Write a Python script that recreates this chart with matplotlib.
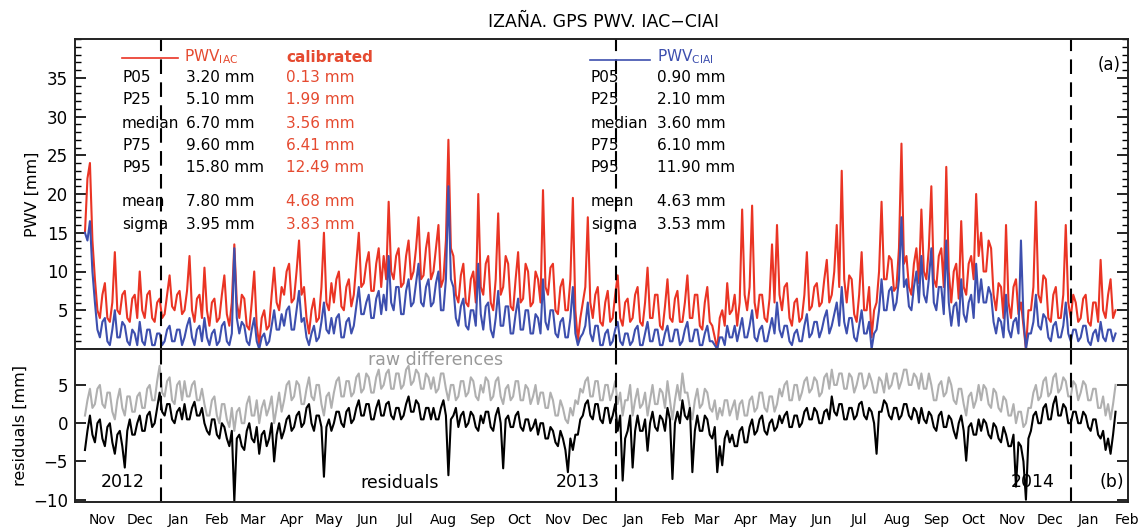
import numpy as np
import matplotlib
matplotlib.use("Agg")
import matplotlib.pyplot as plt
from matplotlib.lines import Line2D
from matplotlib.ticker import MultipleLocator

# ---------------- data (2-day steps from 2011-11-01) ----------------
start_day = -61          # days relative to 2012-01-01
step_days = 2

pwv_iac = [
    15, 22, 24, 14, 9, 5, 4, 7, 8.5, 4, 3.5, 6, 12.5, 5, 4.5, 7, 7.5, 4, 3.5, 6.5,
    7, 4, 10, 5, 4, 7, 7.5, 4, 3.5, 6, 6.5, 4, 4.5, 7, 9.5, 5.5, 5, 7, 7.5, 4.5,
    5, 7.5, 12, 5, 3.5, 6.5, 7, 4, 10.5, 5, 3, 6, 6.5, 3.5, 4, 7, 9.5, 4.5, 3, 6,
    13.5, 6, 4, 7, 6.5, 3, 2.5, 6, 10, 3, 0.5, 4, 5, 2.5, 3, 7, 10.5, 6, 5, 8,
    7, 10, 11, 6, 6.5, 10, 14, 7, 8, 4, 2, 5, 6.5, 3.5, 4, 8, 15, 6, 5, 8.5,
    6, 9, 10, 5.5, 5, 8, 9, 5.5, 7, 11, 15, 8, 8.5, 11, 12.5, 7.5, 7.5, 11, 13, 8,
    12, 9, 19, 10, 9, 12, 13, 8, 8.5, 12, 14, 9, 10, 13, 17, 9, 9.5, 13, 15, 9,
    10, 13, 16, 8, 9, 14, 27, 13, 12, 7, 6, 9.5, 11, 6, 5.5, 9, 10, 6, 20, 8,
    7, 11, 12, 6, 5, 9, 17.5, 7, 8, 12, 11, 5.5, 5, 9, 12.5, 6, 6.5, 11, 10, 5.5,
    6, 10, 9, 6, 20.5, 8, 7, 10.5, 11, 5, 4.5, 8, 9, 5, 5, 9, 19.5, 5, 1, 4,
    6, 8, 17, 6, 4, 7, 8, 3.5, 3, 6, 7.5, 3.5, 4, 7, 9.5, 4, 3, 6, 6.5, 3.5,
    4, 7, 8, 3.5, 3, 6, 10.5, 4, 4, 7, 7, 3, 2.5, 5.5, 9, 4, 3.5, 6.5, 7.5, 3.5,
    3.5, 6, 9.5, 4, 4, 7, 7, 3, 2.5, 6, 8, 3.5, 3, 1.5, 0, 4, 5, 3, 8.5, 4.5,
    5, 7, 3, 6, 18, 7, 5, 8, 18.5, 6, 4, 7, 7, 4, 3.5, 6.5, 13.5, 6, 16, 7,
    5, 8, 8.5, 4, 3, 6, 6.5, 3.5, 4, 7, 12.5, 5, 5.5, 8, 8.5, 5.5, 6, 9, 11.5, 6,
    7, 10, 16, 8, 23, 9, 6, 9.5, 9, 4.5, 3.5, 7, 12.5, 5, 5, 8, 1.5, 5, 6, 10,
    19, 9, 9, 12, 11.5, 7.5, 8, 13, 26.5, 11, 12, 8, 7, 11, 13, 8.5, 18, 10, 9, 13,
    21, 9, 8, 12, 13, 8, 23.5, 10, 6, 10, 11, 6.5, 16.5, 8, 7, 11, 12, 9, 20, 12,
    15, 10, 10, 14, 13, 7, 5, 8.5, 8, 4, 16, 6, 4, 8, 9, 4.5, 6, 3, 0, 5,
    5, 8, 19, 7, 6, 9.5, 9, 4, 3.5, 7, 8, 4, 4, 7, 16, 6, 4, 7, 6, 3.5,
    4, 6.5, 7, 3.5, 3, 6, 6, 3.5, 11.5, 5, 4, 7, 9, 4, 5]

pwv_ciai = [
    15, 14, 16.5, 10, 6, 2.5, 1.5, 3.5, 4, 1, 0.5, 2.5, 5, 1.5, 1.5, 3.5, 3, 1, 0.5, 2.5,
    2, 0.5, 3.5, 1, 0.5, 2.5, 2.5, 0.5, 0.5, 2, 2, 0.5, 1, 2.5, 3, 1, 1, 2.5, 2.5, 0.5,
    1.5, 3, 4, 1.5, 0.5, 2.5, 3, 1, 4, 1.5, 0.5, 2, 2.5, 0.5, 1, 3, 3.5, 1, 0.5, 2,
    13, 4, 2, 3.5, 3, 1, 0.5, 2.5, 4, 1, 0, 1.5, 2, 0.5, 1, 3, 5, 2.5, 2.5, 4.5,
    3, 5, 5.5, 2.5, 2.5, 5, 7.5, 3.5, 4, 1.5, 0.5, 2, 3, 1, 1.5, 3.5, 6, 2.5, 2, 4,
    2, 4, 4.5, 1.5, 1.5, 3.5, 4, 2, 3, 5.5, 8, 4.5, 4.5, 6, 7, 4, 4, 6.5, 7.5, 4.5,
    7, 5, 12, 6, 5, 8, 8, 4.5, 4.5, 7.5, 9, 5.5, 6, 8.5, 11, 6, 5.5, 8, 9, 5.5,
    6, 8.5, 10, 5, 5, 9, 21, 9, 8, 4, 3, 5.5, 6.5, 3, 2.5, 5, 5, 3, 11, 4.5,
    2.5, 5.5, 6, 2.5, 1.5, 4, 7.5, 3, 3, 5.5, 5.5, 2, 2, 4.5, 6.5, 2.5, 2.5, 5, 5, 2,
    2, 4.5, 4, 2, 9, 3.5, 2.5, 5, 5, 2, 1.5, 3.5, 4, 1.5, 1.5, 4, 8, 2, 0.5, 1.5,
    2, 3, 6, 2, 1, 3, 3, 0.5, 0.5, 2, 2.5, 0.5, 1, 2.5, 3.5, 1, 0.5, 2, 2, 0.5,
    1, 2.5, 3, 0.5, 0.5, 2, 3.5, 1, 1, 2.5, 2.5, 0.5, 0.5, 2, 3, 1, 1, 2.5, 2.5, 0.5,
    1, 2.5, 3.5, 1, 1, 2.5, 2.5, 0.5, 0.5, 2, 3, 1, 1, 0.5, 0, 1.5, 1.5, 0.5, 3, 1.5,
    1.5, 3, 1, 2.5, 4, 1.5, 1.5, 3, 5, 1.5, 1, 2.5, 3, 1, 1, 2.5, 4, 2, 6, 2.5,
    1.5, 3, 3, 1, 0.5, 2, 2.5, 1, 1, 3, 4.5, 1.5, 2, 3.5, 3.5, 1.5, 2.5, 4, 5, 2,
    3, 4.5, 6, 3, 8, 3.5, 2, 4, 4, 1.5, 1, 3, 5, 2, 2, 3.5, 0, 2, 2.5, 5,
    9, 5, 5, 7.5, 8, 5, 6, 9, 17, 8, 9, 5.5, 5, 8, 10, 6, 12, 7, 6, 9,
    13, 6, 5, 8, 8, 4.5, 14, 6, 3, 5.5, 6, 3, 9, 4.5, 3.5, 6, 7, 4, 11, 6,
    9, 6, 6, 8, 7, 3.5, 2, 4, 3.5, 1.5, 7, 2.5, 1.5, 3.5, 4, 2, 14, 4, 0, 2,
    2, 3.5, 7, 3, 2.5, 4.5, 4, 1.5, 1, 3, 3.5, 1.5, 1.5, 3, 6, 2, 1, 2.5, 2.5, 1,
    1.5, 3, 3, 1, 0.5, 2, 2.5, 1, 3.5, 1.5, 1, 2.5, 2.5, 1, 2]

raw_diff = [
    1, 3, 4.5, 2, 2.5, 4.5, 5, 2.5, 2, 4, 4, 1.5, 0.5, 3, 4.5, 2, 1, 3.5, 3.5, 1.5,
    1.5, 3.5, 4, 2, 2, 4.5, 5, 3, 3, 5.5, 7.5, 4, 3.5, 5.5, 6, 3, 2.5, 5, 5.5, 3,
    5.5, 3.5, 3.5, 5, 5.5, 3, 3, 4.5, 2.5, 1, 1, 3, 3.5, 1, 0, 2.5, 2.5, 0.5, -0.5, 2,
    -1, 1.5, 2, 0, 0, 2.5, 3.5, 1, 1, 3, 0, 2, 3, 1, 2, 3.5, 0, 2, 4, 1.5,
    3, 5, 5.5, 3, 3.5, 5.5, 5, 2.5, 2.5, 4.5, 6, 3.5, 3, 5, 5, 2.5, 1, 3.5, 4, 2,
    4, 5.5, 6, 3.5, 3.5, 5.5, 5.5, 3.5, 4, 6, 6.5, 4, 4.5, 6.5, 6, 4, 4, 6, 7, 4.5,
    5, 6.5, 7, 4.5, 4.5, 6.5, 6.5, 4.5, 5, 7, 7.5, 5, 5.5, 7, 6.5, 4.5, 4.5, 6.5, 6, 4.5,
    6, 4, 4.5, 6.5, 6.5, 4.5, 3, 5, 5, 3, 3.5, 5.5, 5.5, 3.5, 4, 6, 5.5, 3.5, 3, 5,
    4, 6, 5.5, 3, 3.5, 5.5, 6, 3.5, 2.5, 4.5, 5, 3, 3.5, 5.5, 5.5, 3, 3, 5, 4.5, 2.5,
    3.5, 5, 2.5, 4, 4, 2, 2, 4, 3, 1, 1, 3, 2, 0.5, 0, 2, 1, 3, 2.5, 4.5,
    4, 5.5, 6, 3.5, 3.5, 5.5, 5.5, 3, 3, 5, 5, 3, 4, 5.5, 2.5, 4, 1, 3, 3, 5,
    1, 3, 4.5, 2, 2.5, 4, 1, 3, 5, 2.5, 2.5, 4.5, 4, 2, 5.5, 3, 0.5, 3, 5, 3,
    6.5, 4, 4, 2, 0.5, 3, 4.5, 2, 2.5, 4.5, 4, 2, 1.5, 3, 0.5, 2, 1, 3, 3, 1,
    2, 3, 0.5, 2.5, 3, 1, 1, 3, 3.5, 1.5, 2, 4, 4, 2, 1.5, 3.5, 3.5, 1.5, 2.5, 4.5,
    3.5, 5, 5.5, 3, 3, 5, 5, 3, 4, 5.5, 6, 4, 4.5, 6, 5.5, 3.5, 4, 6, 6.5, 4.5,
    7, 5, 5, 6.5, 6.5, 4.5, 4.5, 6.5, 6, 4, 5, 6.5, 6.5, 4.5, 5, 6.5, 5.5, 4, 4, 6,
    5.5, 4, 6.5, 4.5, 5, 6.5, 6.5, 4.5, 5.5, 7, 7, 5, 5, 6.5, 6, 4.5, 6.5, 4.5, 4.5, 6.5,
    5, 3, 3, 5, 5.5, 3.5, 4, 6, 5, 3, 2.5, 4.5, 4.5, 2.5, 1, 3.5, 4, 2, 3, 5,
    3, 5, 4.5, 2.5, 2, 4.5, 4, 2, 1.5, 3.5, 3, 1, 1, 2.5, 0, 1.5, 1.5, -0.5, 0, 2,
    2, 4, 5, 3, 3.5, 5.5, 6, 3.5, 4, 6, 6.5, 4, 4.5, 6, 5.5, 3.5, 3.5, 5.5, 5, 3,
    4, 5.5, 5, 3, 3, 4.5, 4.5, 2, 2, 3.5, 1, 2.5, 0.5, 2.5, 5]

residuals = [
    -3.5, -1, 1, -1.5, -2.5, 0, 0.5, -2, -3, -0.5, 0, -2.5, -4, -1.5, -1, -3, -5.8, -1, 0.5, -1.5,
    -1.5, 0, 1, -1, -1, 1, 1.5, -0.5, 0, 2, 4, 1.5, 1, 2.5, 2.5, 0.5, 0, 1.5, 2, 0.5,
    2.5, 0.5, 0.5, 2, 2.8, 1, 1, 2, 0, -1, -1.5, 0.5, 0.5, -1.5, -2, 0, -0.5, -2, -3, -1,
    -10.2, -2, -1.5, -3, -3.5, -1, 0, -2, -2.5, -0.5, -4, -1.5, -1, -3, -2, 0, -5, -1.5, 0, -2,
    -1, 0.5, 1, -1, -0.5, 1, 1.5, -0.5, 0, 2, 2.5, 0, -1, 1, 1, -0.5, -7, -0.5, 0.5, -1,
    0, 1.5, 1.5, 0, -0.5, 1.5, 2, 0, 0.5, 2, 3, 1, 1, 2.5, 2.5, 0.5, 0.5, 2, 3, 1,
    1, 2.5, 2.8, 1, 0.5, 2, 2, 0.5, 1, 2.5, 3.5, 1.5, 1.5, 3, 2.5, 0.5, 0.5, 2, 2, 0.5,
    2, 0.5, 0.5, 2, 3, 1, -6.8, 0.5, 1, 2, -0.5, 1, 1.5, -0.5, 0, 1.5, 1, -0.5, -1, 1,
    0, 1.5, 1.5, -0.5, -1, 1, 2, 0, -5.9, 0.5, 1, -0.5, -0.5, 1, 1.5, -0.5, -1, 0.5, 0.5, -1,
    -0.5, 0.5, -1.5, 0, 0, -2, -2, -0.5, -1, -2.5, -3, -1, -2, -3.5, -6.4, -2, -3.5, -1.5, -1.5, 0.5,
    1, 2.5, 3, 1, 0.5, 2.5, 2.5, 0.5, 0, 2, 2, 0, 1, 2.5, -1, 1, -7.5, -2, -1, 1,
    -5.8, -1, 1, -1, -1, 0.5, -3.6, 0, 1.5, -0.5, -1, 1, 0.5, -1, 2, 0.5, -7.3, 0, 1.5, 0,
    3, 1, 0.5, 2, -6.4, -1, 1, -1, -1, 1, 0.5, -1.5, -2, -0.5, -6.4, -3, -5.5, -2, -1, -2.5,
    -1.5, -3, -3, -1, -0.5, -2.5, -2.5, -0.5, 0.5, -1.5, -1, 0.5, 1, -1, -1.5, 0, 0.5, -1, -0.5, 1,
    0, 1, 1.5, -0.5, -0.5, 1, 1, -0.5, 0, 1.5, 2, 0.5, 0.5, 2, 1.5, 0, 0, 1.5, 1.8, 0.5,
    3.5, 1.5, 1, 2.5, 2.5, 0.5, 0.5, 2, 2, 0.5, 1, 2.5, 2.8, 1, 0.5, 2, 1.5, 0, -4, 1.5,
    1.5, 3, 2.5, 1, 0.5, 2, 2, 0.5, 1, 2.5, 2.5, 1, 0.5, 2, 1.5, 0, 2, 0.5, 0, 1.5,
    1, -0.5, -1, 1, 1.5, -0.5, -0.5, 1, 0.5, -1, -2, 0, 1, -1, -4.9, -0.5, 0, -1.5, -1.5, 0.5,
    -1, 0.5, 0, -1.5, -2, 0, -0.5, -2, -2.5, -0.5, -1.5, -3, -3, -1.5, -8.3, -2.5, -3, -5, -10, -2,
    -1, 1, 1.5, 0, 0, 2, 2.5, 0.5, 0.5, 2.5, 3.5, 1, 1, 2.5, 2, 0, 0, 1.5, 1.5, 0,
    0, 1.5, 1, -0.5, -1, 0.5, 0.5, -1.5, -2, -1, -3.5, -2, -4, -1.5, 1.5]

month_labels = ["Nov", "Dec", "Jan", "Feb", "Mar", "Apr", "May", "Jun", "Jul",
                "Aug", "Sep", "Oct", "Nov", "Dec", "Jan", "Feb", "Mar", "Apr",
                "May", "Jun", "Jul", "Aug", "Sep", "Oct", "Nov", "Dec", "Jan", "Feb"]
year_labels = ["2012", "2013", "2014"]

stat_names = ["P05", "P25", "median", "P75", "P95", "mean", "sigma"]
iac_stats = ["3.20 mm", "5.10 mm", "6.70 mm", "9.60 mm", "15.80 mm", "7.80 mm", "3.95 mm"]
cal_stats = ["0.13 mm", "1.99 mm", "3.56 mm", "6.41 mm", "12.49 mm", "4.68 mm", "3.83 mm"]
ciai_stats = ["0.90 mm", "2.10 mm", "3.60 mm", "6.10 mm", "11.90 mm", "4.63 mm", "3.53 mm"]

# ---------------- figure ----------------
W, H = 1141, 528
fig = plt.figure(figsize=(W / 100, H / 100), dpi=100)

def fx(x):
    return x / W

def fy(y):
    return 1 - y / H

left, right = 75, 1128
top_top, mid, bot = 39, 349, 502
ax1 = fig.add_axes([fx(left), fy(mid), (right - left) / W, (mid - top_top) / H])
ax2 = fig.add_axes([fx(left), fy(bot), (right - left) / W, (bot - mid) / H], sharex=ax1)

def day_axis(series):
    return start_day + step_days * np.arange(len(series))

RED = "#ea3424"
BLUE = "#3d4fae"
GRAY = "#b0b0b0"
RED_TXT = "#e54a30"
LW = 1.5

ax1.plot(day_axis(pwv_iac), pwv_iac, color=RED, lw=LW)
ax1.plot(day_axis(pwv_ciai), pwv_ciai, color=BLUE, lw=LW)
ax2.plot(day_axis(raw_diff), raw_diff, color=GRAY, lw=LW)
ax2.plot(day_axis(residuals), residuals, color="black", lw=LW)

year_starts = [0, 366, 731]
for ax in (ax1, ax2):
    for d in year_starts:
        ax.axvline(d, color="black", lw=1.5, dashes=(7, 4))
    for s in ax.spines.values():
        s.set_linewidth(1.4)
        s.set_color("#222222")

ax1.set_xlim(-69, 777)
ax1.set_ylim(0, 40)
ax2.set_ylim(-10.3, 9.7)

ax1.set_yticks([5, 10, 15, 20, 25, 30, 35])
ax1.yaxis.set_minor_locator(MultipleLocator(1))
ax1.tick_params(axis="y", which="major", direction="in", length=8, width=1.2,
                left=True, right=True, labelsize=12, pad=5)
ax1.tick_params(axis="y", which="minor", direction="in", length=4, width=1.0,
                left=True, right=True)
ax1.tick_params(axis="x", which="both", bottom=False, top=False, labelbottom=False)

ax2.set_yticks([-10, -5, 0, 5])
ax2.tick_params(axis="y", which="major", direction="in", length=8, width=1.2,
                left=True, right=True, labelsize=12, pad=5)

# month labels at mid-month
base = np.datetime64("2012-01-01")
mids = []
for k in range(len(month_labels)):
    m = np.datetime64("2011-11") + np.timedelta64(k, "M")
    mids.append((m.astype("datetime64[D]") + np.timedelta64(14, "D") - base).astype(int))
ax2.set_xticks(mids)
ax2.set_xticklabels(month_labels, fontsize=10)
ax2.tick_params(axis="x", which="both", length=0, pad=8)

# axis labels
fig.text(fx(32), fy(194), "PWV [mm]", rotation=90, ha="center", va="center", fontsize=11.5)
fig.text(fx(20), fy(426), "residuals [mm]", rotation=90, ha="center", va="center", fontsize=11.5)

# title
fig.text(fx(603), fy(22), "IZAÑA. GPS PWV. IAC−CIAI", ha="center", va="center", fontsize=12.5)

# legend / stats blocks
fig.add_artist(Line2D([fx(122), fx(178)], [fy(58), fy(58)], color=RED, lw=1.2))
fig.text(fx(184), fy(57), r"PWV$_{\mathrm{IAC}}$", color=RED_TXT, fontsize=11, va="center")
fig.text(fx(286), fy(57), "calibrated", color=RED_TXT, fontsize=11, va="center", fontweight="bold")
fig.add_artist(Line2D([fx(590), fx(650)], [fy(60), fy(60)], color=BLUE, lw=1.2))
fig.text(fx(657), fy(57), r"PWV$_{\mathrm{CIAI}}$", color=BLUE, fontsize=11, va="center")

row_y = [78, 100, 123, 145, 168, 202, 224]
for name, a, c, b, yy in zip(stat_names, iac_stats, cal_stats, ciai_stats, row_y):
    fig.text(fx(122), fy(yy), name, fontsize=11, va="center")
    fig.text(fx(186), fy(yy), a, fontsize=11, va="center")
    fig.text(fx(286), fy(yy), c, fontsize=11, va="center", color=RED_TXT)
    fig.text(fx(591), fy(yy), name, fontsize=11, va="center")
    fig.text(fx(657), fy(yy), b, fontsize=11, va="center")

fig.text(fx(1109), fy(65), "(a)", fontsize=12, ha="center", va="center")
fig.text(fx(1112), fy(482), "(b)", fontsize=12.5, ha="center", va="center")

for lab, xc in zip(year_labels, [123, 578, 1033]):
    fig.text(fx(xc), fy(482), lab, fontsize=12.5, ha="center", va="center")
fig.text(fx(400), fy(483), "residuals", fontsize=12.5, ha="center", va="center")
fig.text(fx(436), fy(360), "raw differences", fontsize=12.5, ha="center", va="center", color="#999999")

fig.savefig("out.png", dpi=100)
